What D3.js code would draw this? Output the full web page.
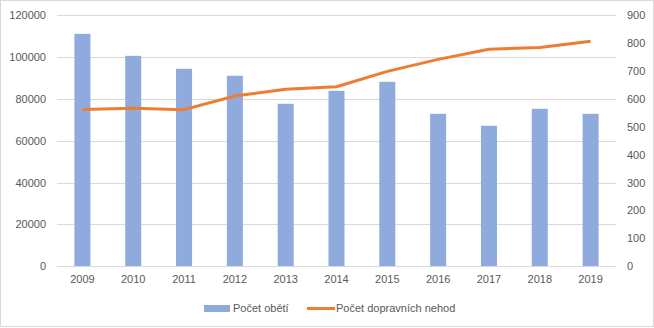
<!DOCTYPE html>
<html><head><meta charset="utf-8">
<script src="https://cdn.jsdelivr.net/npm/d3@7"></script>
<style>body{margin:0;background:#fff}svg{display:block}text{font-family:"Liberation Sans",Arial,sans-serif;fill:#595959}</style>
</head><body><svg id="c" width="654" height="328"></svg>
<script>
const years = ["2009","2010","2011","2012","2013","2014","2015","2016","2017","2018","2019"];
const victims = [111000,100500,94300,91000,77600,83800,88100,72800,67100,75200,72800];
const accidents = [562,566,561,610,634,643,698,741,777,784,806];
const leftTicks = [0,20000,40000,60000,80000,100000,120000];
const rightTicks = [0,100,200,300,400,500,600,700,800,900];
const seriesNames = ["Počet obětí","Počet dopravních nehod"];

const svg = d3.select("#c");
svg.append("rect").attr("x",0.5).attr("y",0.5).attr("width",653).attr("height",326)
  .attr("fill","#fff").attr("stroke","#d9d9d9");
const L=57,R=616,T=15,B=266.3;
const xc = d3.scaleBand().domain(years).range([L,R]);
const yL = d3.scaleLinear().domain([0,120000]).range([B,T]);
const yR = d3.scaleLinear().domain([0,900]).range([B,T]);

const g = svg.append("g");
g.selectAll("line.grid").data(leftTicks).join("line")
  .attr("x1",L).attr("x2",R).attr("y1",d=>Math.round(yL(d))+0.5).attr("y2",d=>Math.round(yL(d))+0.5)
  .attr("stroke","#d9d9d9").attr("stroke-width",1);

const axL = d3.axisLeft(yL).tickValues(leftTicks).tickSize(0).tickPadding(11).tickFormat(d=>d);
const gl = svg.append("g").attr("transform",`translate(${L},0)`).call(axL);
const axR = d3.axisRight(yR).tickValues(rightTicks).tickSize(0).tickPadding(11).tickFormat(d=>d);
const gr = svg.append("g").attr("transform",`translate(${R},0)`).call(axR);
const axB = d3.axisBottom(xc).tickSize(0).tickPadding(9);
const gb = svg.append("g").attr("transform",`translate(0,${B})`).call(axB);
[gl,gr,gb].forEach(a=>{a.select(".domain").remove();a.selectAll("text").attr("font-size","11px").attr("fill","#595959").style("font-family","'Liberation Sans',Arial,sans-serif");});

g.selectAll("rect.bar").data(victims).join("rect")
  .attr("x",(d,i)=>xc(years[i])+xc.bandwidth()/2-8).attr("width",16)
  .attr("y",d=>yL(d)).attr("height",d=>B-yL(d)).attr("fill","#8faadc");

const line = d3.line().x((d,i)=>xc(years[i])+xc.bandwidth()/2).y(d=>yR(d));
g.append("path").datum(accidents).attr("d",line).attr("fill","none")
  .attr("stroke","#ed7d31").attr("stroke-width",3).attr("stroke-linejoin","round");

svg.append("line").attr("x1",L).attr("x2",R).attr("y1",Math.round(B)+0.5).attr("y2",Math.round(B)+0.5).attr("stroke","#d9d9d9");

const lg = svg.append("g");
lg.append("rect").attr("x",204).attr("y",305).attr("width",26).attr("height",7).attr("fill","#8faadc");
lg.append("text").attr("x",233).attr("y",312).attr("font-size","11px").text(seriesNames[0]);
lg.append("line").attr("x1",307).attr("x2",335).attr("y1",308.5).attr("y2",308.5).attr("stroke","#ed7d31").attr("stroke-width",3);
lg.append("text").attr("x",336).attr("y",312).attr("font-size","11px").text(seriesNames[1]);
</script></body></html>
